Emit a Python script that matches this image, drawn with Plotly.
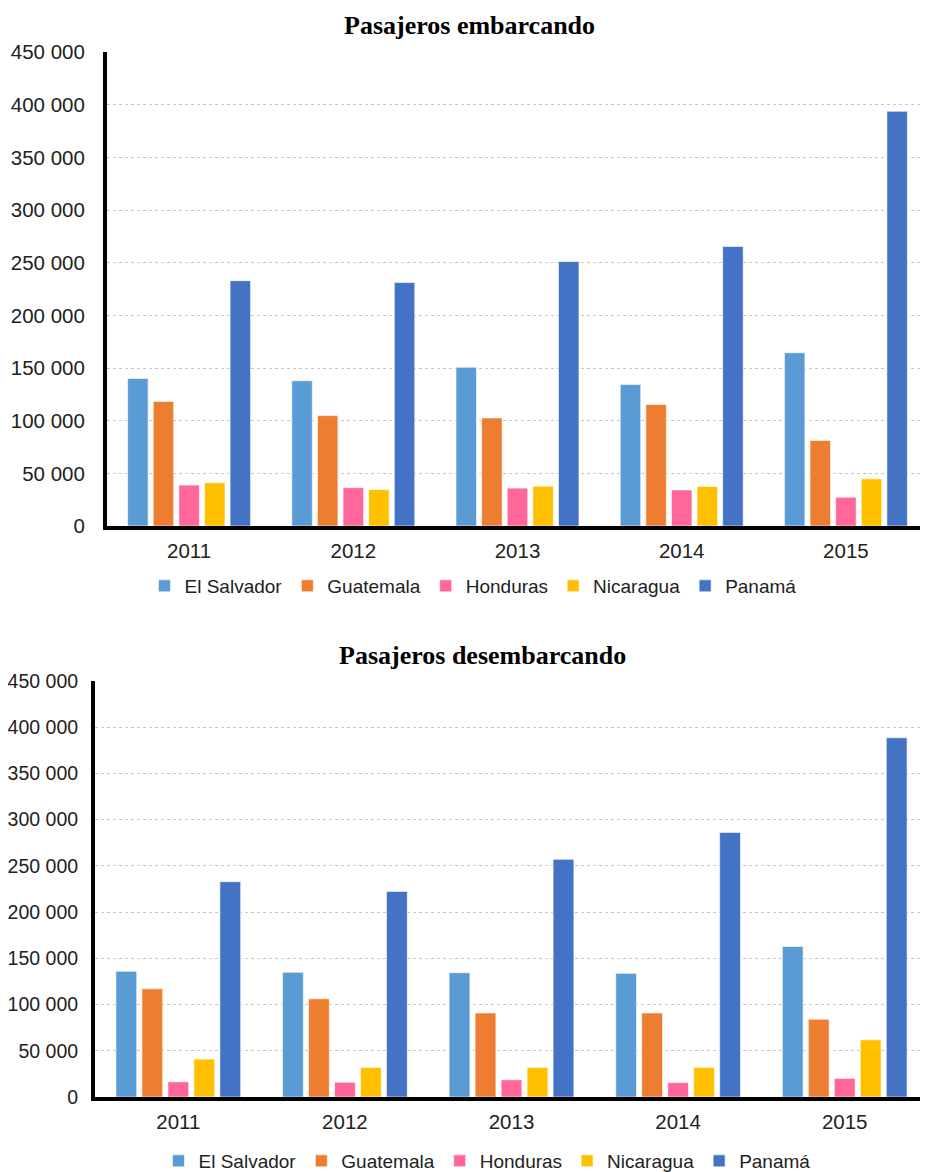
import plotly.graph_objects as go

years = ["2011", "2012", "2013", "2014", "2015"]
countries = ["El Salvador", "Guatemala", "Honduras", "Nicaragua", "Panamá"]
colours = ["#5B9BD5", "#ED7D31", "#FF6699", "#FFC000", "#4472C4"]

# pasajeros embarcando
emb_salvador = [140100, 137900, 150700, 134300, 164500]
emb_guatemala = [118300, 104800, 102600, 115400, 81200]
emb_honduras = [38900, 36400, 36000, 34200, 27300]
emb_nicaragua = [41100, 34600, 37800, 37500, 44800]
emb_panama = [232900, 231100, 251100, 265300, 393700]

# pasajeros desembarcando
des_salvador = [136000, 134900, 134500, 133800, 162800]
des_guatemala = [117000, 106200, 90900, 90900, 84200]
des_honduras = [16400, 16000, 18600, 15600, 20100]
des_nicaragua = [41000, 32000, 32000, 32000, 61800]
des_panama = [232900, 222400, 257100, 286100, 388600]

y_ticks = [0, 50000, 100000, 150000, 200000, 250000, 300000, 350000, 400000, 450000]

emb = [emb_salvador, emb_guatemala, emb_honduras, emb_nicaragua, emb_panama]
des = [des_salvador, des_guatemala, des_honduras, des_nicaragua, des_panama]

fig = go.Figure()

for name, col, vals in zip(countries, colours, emb):
    fig.add_trace(go.Bar(x=years, y=vals, name=name, marker_color=col,
                         marker_line=dict(color="rgba(255,255,255,0.6)", width=1),
                         xaxis="x", yaxis="y", legend="legend"))
for name, col, vals in zip(countries, colours, des):
    fig.add_trace(go.Bar(x=years, y=vals, name=name, marker_color=col,
                         marker_line=dict(color="rgba(255,255,255,0.6)", width=1),
                         xaxis="x2", yaxis="y2", legend="legend2"))

# page body has an 8px margin, so the figure is 8px smaller and positions are shifted
W = 920
H = 1164
OFF = 8


def px(v):
    return (v - OFF) / W


def py(v):
    return 1 - (v - OFF) / H


yax = dict(range=[0, 450000], tickvals=y_ticks, tickformat=",d",
           showgrid=True, gridcolor="#C8C8C8", griddash="dot", gridwidth=1,
           showline=True, linecolor="black", linewidth=4,
           ticks="", ticklabelstandoff=14,
           tickfont=dict(family="Liberation Sans, Arial", size=20.5, color="#222"),
           zeroline=False, fixedrange=True)
xax = dict(showline=True, linecolor="black", linewidth=4, ticks="",
           tickfont=dict(family="Liberation Sans, Arial", size=20.5, color="#222"),
           ticklabelstandoff=3, showgrid=False)

# bottom chart has less room on the left
yax2 = dict(yax, ticklabelstandoff=9,
            tickfont=dict(family="Liberation Sans, Arial", size=19.5, color="#222"))

fig.update_layout(
    width=W, height=H,
    margin=dict(l=0, r=0, t=0, b=0, autoexpand=False),
    paper_bgcolor="white", plot_bgcolor="white",
    separators=". ",
    barmode="group", bargap=0.22, bargroupgap=0.2,
    xaxis=dict(xax, domain=[px(107), 1], anchor="y"),
    yaxis=dict(yax, domain=[py(526), py(52)], anchor="x"),
    xaxis2=dict(xax, domain=[px(95), 1], anchor="y2"),
    yaxis2=dict(yax2, domain=[py(1097), py(681)], anchor="x2"),
    legend=dict(orientation="h", x=px(473), xanchor="center",
                y=py(586), yanchor="middle",
                font=dict(family="Liberation Sans, Arial", size=19, color="#222"),
                itemwidth=30, bgcolor="rgba(0,0,0,0)"),
    legend2=dict(orientation="h", x=px(487), xanchor="center",
                 y=py(1161), yanchor="middle",
                 font=dict(family="Liberation Sans, Arial", size=19, color="#222"),
                 itemwidth=30, bgcolor="rgba(0,0,0,0)"),
    annotations=[
        dict(text="<b>Pasajeros embarcando</b>", x=px(469), y=py(26),
             xref="paper", yref="paper", showarrow=False, yanchor="middle",
             font=dict(family="Liberation Serif, Times New Roman", size=26, color="black")),
        dict(text="<b>Pasajeros desembarcando</b>", x=px(482), y=py(655),
             xref="paper", yref="paper", showarrow=False, yanchor="middle",
             font=dict(family="Liberation Serif, Times New Roman", size=26, color="black")),
    ],
)

fig.write_html("out.html")
